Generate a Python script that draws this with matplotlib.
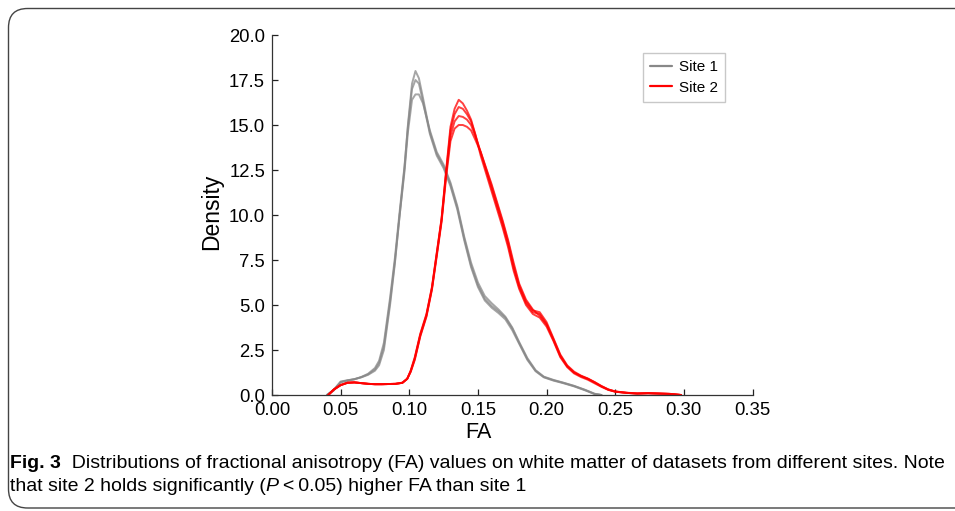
import matplotlib
matplotlib.use("Agg")
import matplotlib.pyplot as plt
from matplotlib.patches import FancyBboxPatch

# ---------------- data ----------------
fa_site1 = [0.040, 0.045, 0.050, 0.055, 0.060, 0.065, 0.070, 0.075, 0.078, 0.0815,
            0.086, 0.0895, 0.093, 0.0965, 0.099, 0.102, 0.1045, 0.107, 0.110, 0.115,
            0.120, 0.125, 0.130, 0.135, 0.140, 0.145, 0.150, 0.155, 0.160, 0.165,
            0.170, 0.175, 0.180, 0.186, 0.192, 0.198, 0.205, 0.212, 0.220, 0.228,
            0.235, 0.240]
site1_a = [0.0, 0.30, 0.75, 0.82, 0.88, 0.98, 1.12, 1.35, 1.65, 2.5,
           5.0, 7.3, 10.0, 12.6, 15.0, 17.3, 18.0, 17.6, 16.5, 14.6,
           13.4, 12.7, 11.7, 10.4, 8.7, 7.2, 6.1, 5.35, 4.95, 4.65,
           4.30, 3.7, 2.9, 2.0, 1.35, 1.0, 0.82, 0.68, 0.50, 0.28,
           0.06, 0.0]
site1_b = [0.0, 0.25, 0.70, 0.80, 0.87, 1.00, 1.18, 1.50, 1.90, 2.9,
           5.4, 7.6, 10.2, 12.7, 14.9, 17.0, 17.5, 17.3, 16.3, 14.5,
           13.3, 12.6, 11.6, 10.3, 8.6, 7.1, 6.0, 5.25, 4.85, 4.55,
           4.20, 3.6, 2.85, 1.95, 1.32, 0.98, 0.80, 0.66, 0.48, 0.26,
           0.05, 0.0]
site1_c = [0.0, 0.28, 0.72, 0.81, 0.88, 0.99, 1.15, 1.42, 1.78, 2.7,
           5.2, 7.4, 10.0, 12.4, 14.6, 16.4, 16.7, 16.7, 16.2, 14.7,
           13.5, 12.8, 11.8, 10.5, 8.8, 7.35, 6.25, 5.5, 5.1, 4.75,
           4.35, 3.75, 2.95, 2.05, 1.38, 1.02, 0.84, 0.69, 0.51, 0.29,
           0.07, 0.0]

fa_site2 = [0.041, 0.045, 0.050, 0.055, 0.060, 0.065, 0.070, 0.075, 0.080, 0.085,
            0.090, 0.095, 0.0985, 0.101, 0.104, 0.108, 0.1125, 0.1165, 0.120, 0.1235,
            0.127, 0.130, 0.133, 0.136, 0.139, 0.142, 0.145, 0.148, 0.152, 0.156,
            0.160, 0.164, 0.168, 0.172, 0.176, 0.180, 0.185, 0.190, 0.195, 0.200,
            0.205, 0.210, 0.215, 0.220, 0.225, 0.230, 0.235, 0.240, 0.245, 0.250,
            0.258, 0.266, 0.274, 0.282, 0.290, 0.298]
site2_a = [0.0, 0.30, 0.55, 0.68, 0.70, 0.66, 0.62, 0.60, 0.60, 0.61,
           0.62, 0.68, 0.90, 1.35, 2.1, 3.4, 4.5, 6.0, 7.9, 9.8,
           12.6, 14.9, 15.9, 16.4, 16.2, 15.8, 15.3, 14.5, 13.3, 12.3,
           11.3, 10.3, 9.3, 8.2, 6.9, 5.9, 5.0, 4.5, 4.3, 3.8,
           3.0, 2.1, 1.55, 1.2, 1.0, 0.85, 0.65, 0.45, 0.28, 0.18,
           0.12, 0.08, 0.10, 0.08, 0.06, 0.0]
site2_b = [0.0, 0.30, 0.55, 0.68, 0.70, 0.66, 0.62, 0.60, 0.60, 0.61,
           0.62, 0.68, 0.90, 1.33, 2.05, 3.35, 4.45, 5.95, 7.85, 9.75,
           12.5, 14.7, 15.6, 16.0, 15.9, 15.6, 15.2, 14.5, 13.45, 12.45,
           11.45, 10.45, 9.45, 8.35, 7.05, 6.0, 5.1, 4.6, 4.5, 3.95,
           3.1, 2.2, 1.6, 1.25, 1.05, 0.9, 0.7, 0.48, 0.30, 0.19,
           0.12, 0.08, 0.10, 0.08, 0.06, 0.0]
site2_c = [0.0, 0.30, 0.55, 0.68, 0.70, 0.66, 0.62, 0.60, 0.60, 0.61,
           0.62, 0.68, 0.90, 1.30, 2.0, 3.3, 4.4, 5.9, 7.8, 9.7,
           12.4, 14.4, 15.2, 15.5, 15.45, 15.3, 15.0, 14.4, 13.5, 12.55,
           11.6, 10.6, 9.6, 8.5, 7.2, 6.1, 5.2, 4.7, 4.6, 4.05,
           3.15, 2.25, 1.65, 1.3, 1.08, 0.92, 0.72, 0.5, 0.31, 0.2,
           0.13, 0.09, 0.10, 0.08, 0.06, 0.0]
site2_d = [0.0, 0.30, 0.55, 0.68, 0.70, 0.66, 0.62, 0.60, 0.60, 0.61,
           0.62, 0.68, 0.90, 1.28, 1.95, 3.25, 4.35, 5.85, 7.7, 9.6,
           12.2, 14.1, 14.8, 15.0, 15.0, 14.9, 14.7, 14.2, 13.5, 12.6,
           11.7, 10.7, 9.7, 8.6, 7.35, 6.2, 5.3, 4.75, 4.4, 3.9,
           3.05, 2.15, 1.6, 1.25, 1.05, 0.9, 0.7, 0.48, 0.3, 0.19,
           0.12, 0.08, 0.10, 0.08, 0.06, 0.0]

site1_curves = [site1_a, site1_b, site1_c]
site2_curves = [site2_a, site2_b, site2_c, site2_d]

x_ticks = [0.00, 0.05, 0.10, 0.15, 0.20, 0.25, 0.30, 0.35]
y_ticks = [0.0, 2.5, 5.0, 7.5, 10.0, 12.5, 15.0, 17.5, 20.0]
series_names = ["Site 1", "Site 2"]
caption_bold = "Fig. 3"
caption_line1 = "  Distributions of fractional anisotropy (FA) values on white matter of datasets from different sites. Note"
caption_line2a = "that site 2 holds significantly ("
caption_line2b = "P"
caption_line2c = "\u2009<\u20090.05) higher FA than site 1"

# ---------------- figure ----------------
W, H = 955, 511
fig = plt.figure(figsize=(W / 100, H / 100), dpi=100)
plt.rcParams['font.family'] = ['Liberation Sans', 'DejaVu Sans']

ax = fig.add_axes([272 / W, 1 - 395 / H, (752.5 - 272) / W, (395 - 35) / H])

gray = "#888888"
red = "#ff0000"
for i, c in enumerate(site1_curves):
    ax.plot(fa_site1, c, color=gray, lw=1.4, alpha=0.75,
            label=series_names[0] if i == 0 else None, solid_capstyle="round")
for i, c in enumerate(site2_curves):
    ax.plot(fa_site2, c, color=red, lw=1.4, alpha=0.75,
            label=series_names[1] if i == 0 else None, solid_capstyle="round")

ax.set_xlim(0, 0.35)
ax.set_ylim(0, 20)
ax.set_xticks(x_ticks)
ax.set_xticklabels([f"{v:.2f}" for v in x_ticks])
ax.set_yticks(y_ticks)
ax.set_yticklabels([f"{v:.1f}" for v in y_ticks])
ax.tick_params(axis="both", direction="in", length=4.5, width=0.9,
               labelsize=13.3, colors="#222222", labelcolor="black")
ax.tick_params(axis="x", pad=5)
ax.tick_params(axis="y", pad=5)
for s in ["top", "right"]:
    ax.spines[s].set_visible(False)
for s in ["left", "bottom"]:
    ax.spines[s].set_color("#333333")
    ax.spines[s].set_linewidth(0.9)

ax.set_xlabel("FA", fontsize=15.5)
ax.set_ylabel("Density", fontsize=16.5)
ax.xaxis.set_label_coords((478 - 272) / 480.5, -0.074)
ax.yaxis.set_label_coords(-0.102, 0.51)

leg = ax.legend(loc="upper left", bbox_to_anchor=(0.772, 0.95), borderaxespad=0,
                fontsize=11, frameon=True, fancybox=False, handlelength=1.45,
                handletextpad=0.45, borderpad=0.45, labelspacing=0.45)
leg.get_frame().set_edgecolor("#bbbbbb")
leg.get_frame().set_linewidth(1.0)
for lh in leg.get_lines():
    lh.set_alpha(1)
    lh.set_linewidth(1.6)

# rounded border (right side runs off the figure)
border = FancyBboxPatch((8.5 / W, 1 - 508 / H), (1010 - 8.5) / W, (508 - 8.5) / H,
                        boxstyle="round,pad=0,rounding_size=0.02",
                        transform=fig.transFigure, fill=False,
                        edgecolor="#444444", linewidth=1.0, mutation_aspect=W / H)
fig.add_artist(border)

# caption
cap_font = ['Liberation Sans', 'DejaVu Sans']
cap_size = 14
t1 = fig.text(10 / W, 1 - 468 / H, caption_bold, fontsize=cap_size, fontweight="bold",
              family=cap_font, va="baseline")
ax.annotate(caption_line1, xy=(1, 0), xycoords=t1, va="bottom", ha="left",
            fontsize=cap_size, family=cap_font, annotation_clip=False)
t3 = fig.text(10 / W, 1 - 491 / H, caption_line2a, fontsize=cap_size, family=cap_font,
              va="baseline")
t4 = ax.annotate(caption_line2b, xy=(1, 0), xycoords=t3, va="bottom", ha="left",
                 fontsize=cap_size, family=cap_font, style="italic", annotation_clip=False)
ax.annotate(caption_line2c, xy=(1, 0), xycoords=t4, va="bottom", ha="left",
            fontsize=cap_size, family=cap_font, annotation_clip=False)

fig.savefig("out.png", dpi=100, facecolor="white")
